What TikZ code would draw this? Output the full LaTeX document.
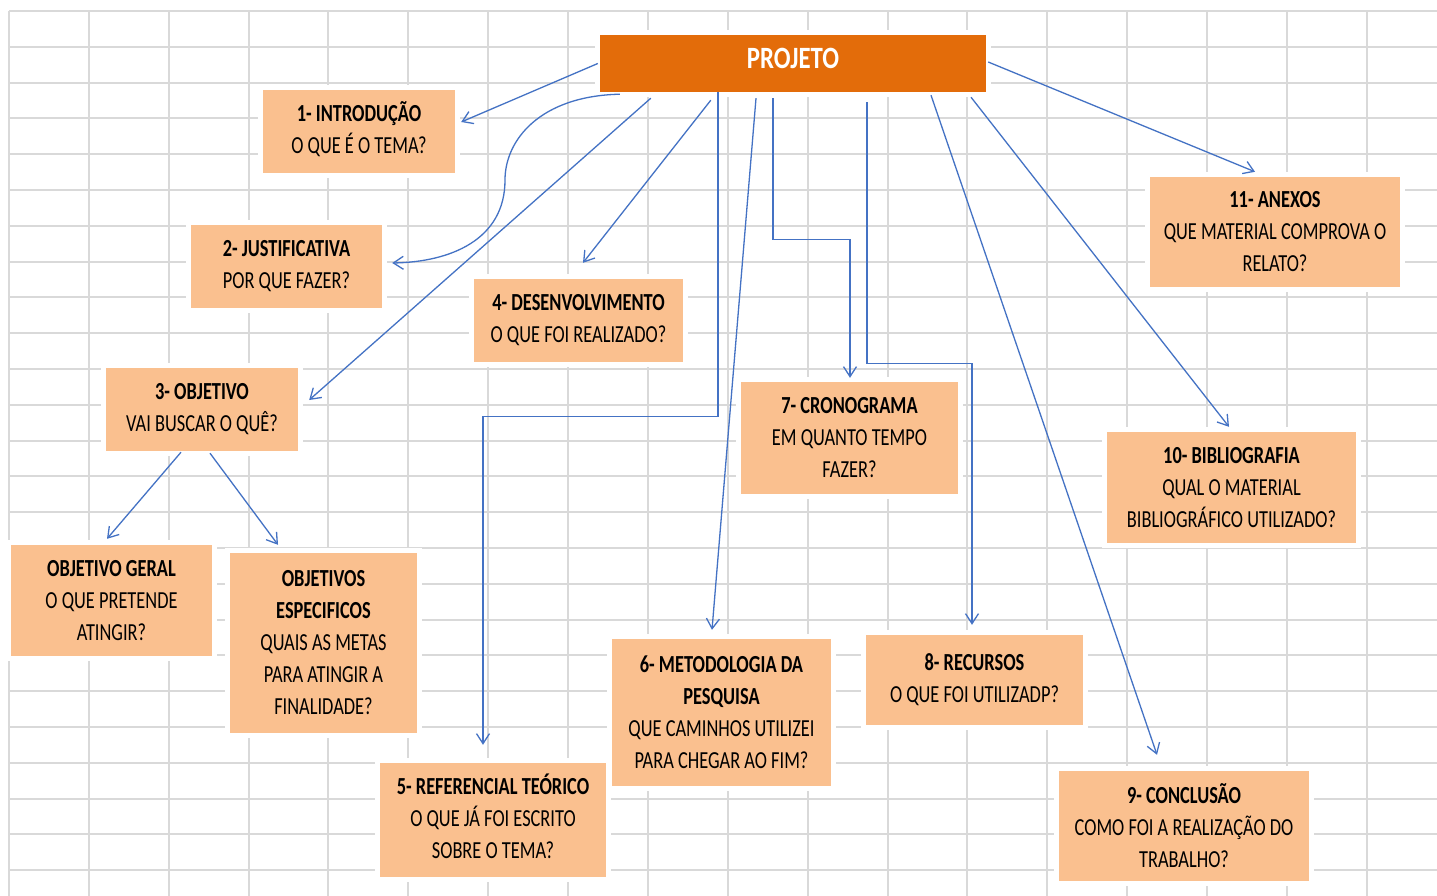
\documentclass[tikz,border=0pt]{standalone}
\usepackage{fontspec}
\setmainfont{Carlito}[FakeStretch=0.75]
\newfontfamily\projfont{Carlito}[FakeStretch=0.80]
\usetikzlibrary{arrows.meta,calc}
\definecolor{gridc}{RGB}{217,217,217}
\definecolor{boxc}{RGB}{250,192,143}
\definecolor{projc}{RGB}{227,108,10}
\definecolor{linec}{RGB}{68,114,196}
\newcommand{\bxtext}[2]{\raisebox{#1}{\begin{tabular}{@{}c@{}}#2\end{tabular}}}
\tikzset{
  gridline/.style={draw=gridc,line width=2pt},
  box/.style={fill=boxc,draw=none,inner sep=0pt,align=center,
    preaction={draw=white,line width=10pt},
    font={\fontsize{24.5}{32}\selectfont}},
  conn/.style={draw=linec,line width=1.3pt,-{Straight Barb[length=10pt,width=13pt,line width=1.3pt]}}
}
\begin{document}
\begin{tikzpicture}[x=1pt,y=-1pt]
\fill[white] (0,0) rectangle (1437,896);
\useasboundingbox (0,0) rectangle (1437,896);
% grid
\foreach \k in {0,...,17} \draw[gridline] ({9+79.87*\k},11) -- ({9+79.87*\k},896);
\foreach \k in {0,...,24} \draw[gridline] (9,{11+35.8*\k}) -- (1437,{11+35.8*\k});
% boxes
\node[box,fill=projc,minimum width=386,minimum height=57,text=white,
  font={\projfont\bfseries\fontsize{31}{36}\selectfont}] (proj) at (793,63.5) {\raisebox{10pt}{PROJETO}};
\node[box,minimum width=192,minimum height=83] (b1) at (359,131.5) {\bxtext{3pt}{\textbf{1- INTRODUÇÃO}\\O QUE É O TEMA?}};
\node[box,minimum width=191,minimum height=83] (b2) at (286.5,266.5) {\textbf{2- JUSTIFICATIVA}\\POR QUE FAZER?};
\node[box,minimum width=192,minimum height=83] (b3) at (202,409.5) {\textbf{3- OBJETIVO}\\VAI BUSCAR O QUÊ?};
\node[box,minimum width=209,minimum height=83] (b4) at (578.5,320.5) {\textbf{4- DESENVOLVIMENTO}\\O QUE FOI REALIZADO?};
\node[box,minimum width=201,minimum height=111] (og) at (111.5,600.5) {\textbf{OBJETIVO GERAL}\\O QUE PRETENDE\\ATINGIR?};
\node[box,minimum width=187,minimum height=180] (oe) at (323.5,643) {\textbf{OBJETIVOS}\\\textbf{ESPECIFICOS}\\QUAIS AS METAS\\PARA ATINGIR A\\FINALIDADE?};
\node[box,minimum width=226,minimum height=114] (b5) at (493,820) {\bxtext{3pt}{\textbf{5- REFERENCIAL TEÓRICO}\\O QUE JÁ FOI ESCRITO\\SOBRE O TEMA?}};
\node[box,minimum width=219,minimum height=147] (b6) at (721.5,712.5) {\textbf{6- METODOLOGIA DA}\\\textbf{PESQUISA}\\QUE CAMINHOS UTILIZEI\\PARA CHEGAR AO FIM?};
\node[box,minimum width=217,minimum height=112] (b7) at (849.5,438) {\textbf{7- CRONOGRAMA}\\EM QUANTO TEMPO\\FAZER?};
\node[box,minimum width=217,minimum height=90] (b8) at (974.5,680) {\bxtext{5pt}{\textbf{8- RECURSOS}\\O QUE FOI UTILIZADP?}};
\node[box,minimum width=250,minimum height=110] (b9) at (1184,826) {\textbf{9- CONCLUSÃO}\\COMO FOI A REALIZAÇÃO DO\\TRABALHO?};
\node[box,minimum width=249,minimum height=111] (b10) at (1231.5,487.5) {\textbf{10- BIBLIOGRAFIA}\\QUAL O MATERIAL\\BIBLIOGRÁFICO UTILIZADO?};
\node[box,minimum width=250,minimum height=110] (b11) at (1275,232) {\textbf{11- ANEXOS}\\QUE MATERIAL COMPROVA O\\RELATO?};
% connectors
\draw[conn] ($(proj.west)+(-2,0)$) -- ($(b1.east)+(6,-9.5)$);
\draw[conn] ($(proj.south west)+(20,2)$) .. controls (540,96) and (505,140) .. (505,180)
   .. controls (505,240) and (450,262) .. ($(b2.east)+(10,-3.5)$);
\draw[conn] ($(proj.south west)+(51,6)$) -- ($(b3.east)+(11,-9.5)$);
\draw[conn] ($(proj.south west)+(111,8)$) -- ($(b4.north)+(4.5,-16)$);
\draw[conn] ($(proj.south)+(-75,0)$) -- ++(0,324) -| ($(b5.north)+(-10,-18)$);
\draw[conn] ($(proj.south)+(-37,6)$) -- ($(b6.north)+(-9.5,-9)$);
\draw[conn] ($(proj.south)+(-20,6)$) -- ++(0,141) -| ($(b7.north)+(0.5,-4)$);
\draw[conn] ($(proj.south)+(74,10)$) -- ++(0,261) -| ($(b8.north)+(-2.5,-10)$);
\draw[conn] ($(proj.south)+(138,3)$) -- ($(b9.north)+(-27,-16)$);
\draw[conn] ($(proj.south)+(178,5)$) -- ($(b10.north)+(-2.5,-5)$);
\draw[conn] ($(proj.east)+(2,-1.5)$) -- ($(b11.north)+(-20,-5)$);
\draw[conn] ($(b3.south)+(-21,1)$) -- ($(og.north)+(-4.5,-6)$);
\draw[conn] ($(b3.south)+(8,2)$) -- ($(oe.north)+(-45.5,-8)$);
\end{tikzpicture}
\end{document}
